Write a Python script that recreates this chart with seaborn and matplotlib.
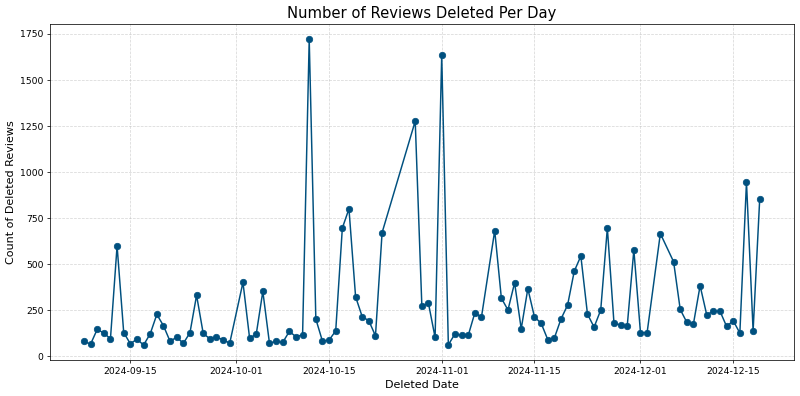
import pandas as pd
import matplotlib
matplotlib.use("Agg")
import matplotlib.pyplot as plt
import matplotlib.dates as mdates
import seaborn as sns

# days that appear in the chart (some days have no row)
dates = [
    "2024-09-08", "2024-09-09", "2024-09-10", "2024-09-11", "2024-09-12",
    "2024-09-13", "2024-09-14", "2024-09-15", "2024-09-16", "2024-09-17",
    "2024-09-18", "2024-09-19", "2024-09-20", "2024-09-21", "2024-09-22",
    "2024-09-23", "2024-09-24", "2024-09-25", "2024-09-26", "2024-09-27",
    "2024-09-28", "2024-09-29", "2024-09-30", "2024-10-02", "2024-10-03",
    "2024-10-04", "2024-10-05", "2024-10-06", "2024-10-07", "2024-10-08",
    "2024-10-09", "2024-10-10", "2024-10-11", "2024-10-12", "2024-10-13",
    "2024-10-14", "2024-10-15", "2024-10-16", "2024-10-17", "2024-10-18",
    "2024-10-19", "2024-10-20", "2024-10-21", "2024-10-22", "2024-10-23",
    "2024-10-28", "2024-10-29", "2024-10-30", "2024-10-31", "2024-11-01",
    "2024-11-02", "2024-11-03", "2024-11-04", "2024-11-05", "2024-11-06",
    "2024-11-07", "2024-11-09", "2024-11-10", "2024-11-11", "2024-11-12",
    "2024-11-13", "2024-11-14", "2024-11-15", "2024-11-16", "2024-11-17",
    "2024-11-18", "2024-11-19", "2024-11-20", "2024-11-21", "2024-11-22",
    "2024-11-23", "2024-11-24", "2024-11-25", "2024-11-26", "2024-11-27",
    "2024-11-28", "2024-11-29", "2024-11-30", "2024-12-01", "2024-12-02",
    "2024-12-04", "2024-12-06", "2024-12-07", "2024-12-08", "2024-12-09",
    "2024-12-10", "2024-12-11", "2024-12-12", "2024-12-13", "2024-12-14",
    "2024-12-15", "2024-12-16", "2024-12-17", "2024-12-18", "2024-12-19",
]

counts = [
    82, 67, 147, 127, 96,
    600, 130, 69, 94, 62,
    123, 228, 167, 82, 105,
    71, 129, 332, 125, 96,
    105, 91, 72, 402, 100,
    120, 353, 72, 82, 76,
    136, 107, 118, 1721, 203,
    83, 89, 139, 697, 801,
    324, 216, 194, 112, 672,
    1277, 275, 288, 103, 1634,
    63, 123, 114, 114, 237,
    214, 683, 317, 252, 400,
    150, 368, 214, 181, 92,
    100, 203, 279, 462, 545,
    230, 159, 252, 697, 181,
    170, 165, 578, 129, 129,
    667, 514, 255, 185, 178,
    384, 226, 246, 246, 163,
    194, 127, 947, 139, 857,
]

df = pd.DataFrame({"Deleted Date": pd.to_datetime(dates), "Count": counts})

fig, ax = plt.subplots(figsize=(12, 5.94), dpi=800 / 12)

sns.lineplot(data=df, x="Deleted Date", y="Count", marker="o", color="#00507f",
             markeredgecolor="#00507f", markersize=7, linewidth=1.6, ax=ax)

ax.set_title("Number of Reviews Deleted Per Day", fontsize=16)
ax.set_xlabel("Deleted Date", fontsize=12)
ax.set_ylabel("Count of Deleted Reviews", fontsize=12)
ax.grid(True, linestyle="--", alpha=0.5)
ax.xaxis.set_major_locator(mdates.DayLocator(bymonthday=[1, 15]))
ax.xaxis.set_major_formatter(mdates.DateFormatter("%Y-%m-%d"))

plt.tight_layout(pad=0.7)
plt.savefig("out.png")
